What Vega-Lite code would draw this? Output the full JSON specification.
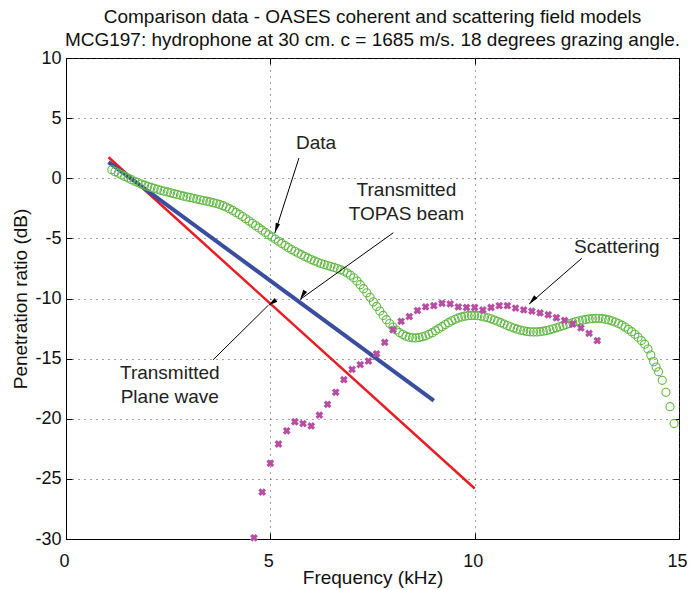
{
  "$schema": "https://vega.github.io/schema/vega-lite/v6.json",
  "width": 613,
  "height": 481,
  "autosize": {"type": "none"},
  "padding": {"left": 66, "top": 58, "right": 11, "bottom": 51},
  "background": "white",
  "title": {
    "text": ["Comparison data - OASES coherent and scattering field models", "MCG197: hydrophone at 30 cm. c = 1685 m/s. 18 degrees grazing angle."],
    "font": "Liberation Sans",
    "fontSize": 19,
    "fontWeight": "normal",
    "color": "#111111",
    "anchor": "middle",
    "lineHeight": 23,
    "offset": -1
  },
  "config": {
    "view": {"stroke": "black", "strokeWidth": 1},
    "axis": {
      "labelFont": "Liberation Sans",
      "titleFont": "Liberation Sans",
      "labelFontSize": 18,
      "titleFontSize": 19,
      "titleFontWeight": "normal",
      "labelColor": "#111111",
      "titleColor": "#111111",
      "domainColor": "black",
      "tickColor": "black",
      "tickSize": -6,
      "gridColor": "#444444",
      "gridDash": [1, 5],
      "gridWidth": 1,
      "gridOpacity": 1
    }
  },
  "datasets": {
    "obs": [
      {"f":1.12,"v":0.70},{"f":1.20,"v":0.55},{"f":1.28,"v":0.42},{"f":1.36,"v":0.28},{"f":1.44,"v":0.15},{"f":1.52,"v":0.02},{"f":1.60,"v":-0.12},{"f":1.68,"v":-0.25},{"f":1.76,"v":-0.36},{"f":1.84,"v":-0.48},{"f":1.92,"v":-0.58},{"f":2.00,"v":-0.68},{"f":2.08,"v":-0.76},{"f":2.16,"v":-0.84},{"f":2.24,"v":-0.92},{"f":2.32,"v":-1.00},{"f":2.40,"v":-1.07},{"f":2.48,"v":-1.14},{"f":2.56,"v":-1.21},{"f":2.64,"v":-1.28},{"f":2.72,"v":-1.35},{"f":2.80,"v":-1.42},{"f":2.88,"v":-1.49},{"f":2.96,"v":-1.55},{"f":3.04,"v":-1.61},{"f":3.12,"v":-1.67},{"f":3.20,"v":-1.73},{"f":3.28,"v":-1.79},{"f":3.36,"v":-1.85},{"f":3.44,"v":-1.91},{"f":3.52,"v":-1.97},{"f":3.60,"v":-2.03},{"f":3.68,"v":-2.10},{"f":3.76,"v":-2.18},{"f":3.84,"v":-2.28},{"f":3.92,"v":-2.40},{"f":4.00,"v":-2.53},{"f":4.08,"v":-2.68},{"f":4.16,"v":-2.84},{"f":4.24,"v":-3.01},{"f":4.32,"v":-3.19},{"f":4.40,"v":-3.37},{"f":4.48,"v":-3.56},{"f":4.56,"v":-3.75},{"f":4.64,"v":-3.94},{"f":4.72,"v":-4.13},{"f":4.80,"v":-4.32},{"f":4.88,"v":-4.51},{"f":4.96,"v":-4.70},{"f":5.04,"v":-4.88},{"f":5.12,"v":-5.06},{"f":5.20,"v":-5.24},{"f":5.28,"v":-5.42},{"f":5.36,"v":-5.60},{"f":5.44,"v":-5.77},{"f":5.52,"v":-5.93},{"f":5.60,"v":-6.08},{"f":5.68,"v":-6.22},{"f":5.76,"v":-6.36},{"f":5.84,"v":-6.50},{"f":5.92,"v":-6.63},{"f":6.00,"v":-6.76},{"f":6.08,"v":-6.88},{"f":6.16,"v":-6.99},{"f":6.24,"v":-7.09},{"f":6.32,"v":-7.18},{"f":6.40,"v":-7.26},{"f":6.48,"v":-7.34},{"f":6.56,"v":-7.42},{"f":6.64,"v":-7.51},{"f":6.72,"v":-7.61},{"f":6.80,"v":-7.73},{"f":6.88,"v":-7.88},{"f":6.96,"v":-8.06},{"f":7.04,"v":-8.28},{"f":7.12,"v":-8.55},{"f":7.20,"v":-8.85},{"f":7.28,"v":-9.18},{"f":7.36,"v":-9.53},{"f":7.44,"v":-9.90},{"f":7.52,"v":-10.28},{"f":7.60,"v":-10.66},{"f":7.68,"v":-11.04},{"f":7.76,"v":-11.41},{"f":7.84,"v":-11.76},{"f":7.92,"v":-12.08},{"f":8.00,"v":-12.37},{"f":8.08,"v":-12.62},{"f":8.16,"v":-12.83},{"f":8.24,"v":-13.00},{"f":8.32,"v":-13.13},{"f":8.40,"v":-13.22},{"f":8.48,"v":-13.27},{"f":8.56,"v":-13.28},{"f":8.64,"v":-13.25},{"f":8.72,"v":-13.19},{"f":8.80,"v":-13.10},{"f":8.88,"v":-12.98},{"f":8.96,"v":-12.84},{"f":9.04,"v":-12.68},{"f":9.12,"v":-12.51},{"f":9.20,"v":-12.34},{"f":9.28,"v":-12.17},{"f":9.36,"v":-12.01},{"f":9.44,"v":-11.86},{"f":9.52,"v":-11.73},{"f":9.60,"v":-11.62},{"f":9.68,"v":-11.53},{"f":9.76,"v":-11.47},{"f":9.84,"v":-11.43},{"f":9.92,"v":-11.41},{"f":10.00,"v":-11.41},{"f":10.08,"v":-11.43},{"f":10.16,"v":-11.47},{"f":10.24,"v":-11.53},{"f":10.32,"v":-11.60},{"f":10.40,"v":-11.69},{"f":10.48,"v":-11.79},{"f":10.56,"v":-11.90},{"f":10.64,"v":-12.01},{"f":10.72,"v":-12.13},{"f":10.80,"v":-12.25},{"f":10.88,"v":-12.36},{"f":10.96,"v":-12.46},{"f":11.04,"v":-12.55},{"f":11.12,"v":-12.63},{"f":11.20,"v":-12.69},{"f":11.28,"v":-12.74},{"f":11.36,"v":-12.77},{"f":11.44,"v":-12.78},{"f":11.52,"v":-12.78},{"f":11.60,"v":-12.76},{"f":11.68,"v":-12.72},{"f":11.76,"v":-12.67},{"f":11.84,"v":-12.60},{"f":11.92,"v":-12.52},{"f":12.00,"v":-12.44},{"f":12.08,"v":-12.35},{"f":12.16,"v":-12.26},{"f":12.24,"v":-12.17},{"f":12.32,"v":-12.08},{"f":12.40,"v":-12.00},{"f":12.48,"v":-11.92},{"f":12.56,"v":-11.85},{"f":12.64,"v":-11.79},{"f":12.72,"v":-11.74},{"f":12.80,"v":-11.70},{"f":12.88,"v":-11.67},{"f":12.96,"v":-11.65},{"f":13.04,"v":-11.65},{"f":13.12,"v":-11.68},{"f":13.20,"v":-11.72},{"f":13.28,"v":-11.78},{"f":13.36,"v":-11.86},{"f":13.44,"v":-11.96},{"f":13.52,"v":-12.08},{"f":13.60,"v":-12.22},{"f":13.68,"v":-12.38},{"f":13.76,"v":-12.56},{"f":13.84,"v":-12.76},{"f":13.92,"v":-12.98},{"f":14.00,"v":-13.22},{"f":14.08,"v":-13.50},{"f":14.16,"v":-13.80},{"f":14.24,"v":-14.20},{"f":14.31,"v":-14.70},{"f":14.38,"v":-15.25},{"f":14.44,"v":-15.70},{"f":14.50,"v":-16.10},{"f":14.59,"v":-16.80},{"f":14.68,"v":-17.80},{"f":14.78,"v":-19.00},{"f":14.88,"v":-20.40}
    ],
    "scat": [
      {"f":4.6,"v":-29.9},{"f":4.8,"v":-26.1},{"f":5.0,"v":-23.7},{"f":5.2,"v":-22.1},{"f":5.4,"v":-21.0},{"f":5.6,"v":-20.25},{"f":5.8,"v":-20.4},{"f":6.0,"v":-20.6},{"f":6.2,"v":-19.7},{"f":6.4,"v":-18.8},{"f":6.6,"v":-17.8},{"f":6.8,"v":-16.75},{"f":7.0,"v":-15.9},{"f":7.2,"v":-15.5},{"f":7.4,"v":-15.2},{"f":7.6,"v":-14.6},{"f":7.8,"v":-13.65},{"f":8.0,"v":-12.6},{"f":8.2,"v":-11.9},{"f":8.4,"v":-11.5},{"f":8.6,"v":-11.0},{"f":8.8,"v":-10.7},{"f":9.0,"v":-10.6},{"f":9.2,"v":-10.4},{"f":9.4,"v":-10.45},{"f":9.6,"v":-10.7},{"f":9.8,"v":-10.75},{"f":10.0,"v":-10.75},{"f":10.2,"v":-10.95},{"f":10.4,"v":-10.75},{"f":10.6,"v":-10.6},{"f":10.8,"v":-10.6},{"f":11.0,"v":-10.8},{"f":11.2,"v":-10.95},{"f":11.4,"v":-11.05},{"f":11.6,"v":-11.2},{"f":11.8,"v":-11.35},{"f":12.0,"v":-11.6},{"f":12.2,"v":-11.82},{"f":12.4,"v":-12.12},{"f":12.6,"v":-12.45},{"f":12.8,"v":-12.9},{"f":13.0,"v":-13.5}
    ],
    "models": [
      {"series":"Transmitted plane wave","f":1.04,"v":1.75},{"series":"Transmitted plane wave","f":10.0,"v":-25.8},
      {"series":"Transmitted TOPAS beam","f":1.04,"v":1.35},{"series":"Transmitted TOPAS beam","f":9.0,"v":-18.5}
    ],
    "arrows": [
      {"name":"Data","f":5.70,"v":1.68,"f2":5.11,"v2":-4.56},
      {"name":"TOPAS","f":8.01,"v":-4.53,"f2":5.73,"v2":-10.08},
      {"name":"Scattering","f":12.62,"v":-6.66,"f2":11.33,"v2":-10.47},
      {"name":"Plane","f":3.6,"v":-15.1,"f2":4.94,"v2":-10.6}
    ],
    "labels": [
      {"text":"Data","f":6.12,"v":2.93},
      {"text":"Transmitted","f":8.33,"v":-0.98},
      {"text":"TOPAS beam","f":8.33,"v":-2.98},
      {"text":"Scattering","f":13.48,"v":-5.72},
      {"text":"Transmitted","f":2.54,"v":-16.2},
      {"text":"Plane wave","f":2.54,"v":-18.2}
    ]
  },
  "layer": [
    {
      "encoding": {
        "x": {"field": "f", "type": "quantitative", "scale": {"domain": [0, 15], "nice": false, "zero": false},
              "axis": {"title": "Frequency (kHz)", "values": [0, 5, 10, 15], "grid": true, "labelFlush": false, "labelOffset": -2, "labelPadding": 19, "titlePadding": -2, "labelExpr": "'' + datum.value"}},
        "y": {"field": "v", "type": "quantitative", "scale": {"domain": [-30, 10], "nice": false, "zero": false},
              "axis": {"title": "Penetration ratio (dB)", "values": [-30, -25, -20, -15, -10, -5, 0, 5, 10], "grid": true, "labelFlush": false, "labelPadding": 11, "titlePadding": 4, "labelExpr": "'' + datum.value"}}
      },
      "layer": [
        {
          "data": {"name": "models"},
          "mark": {"type": "line", "strokeCap": "butt"},
          "encoding": {
            "color": {"field": "series", "type": "nominal", "scale": {"domain": ["Transmitted plane wave", "Transmitted TOPAS beam"], "range": ["#ec1c24", "#3a4d9f"]}, "legend": null},
            "strokeWidth": {"field": "series", "type": "nominal", "scale": {"domain": ["Transmitted plane wave", "Transmitted TOPAS beam"], "range": [2.5, 4]}, "legend": null}
          }
        },
        {
          "data": {"name": "obs"},
          "mark": {"type": "point", "shape": "circle", "filled": false, "stroke": "#63b946", "strokeWidth": 1.1, "size": 66, "opacity": 1}
        },
        {
          "data": {"name": "scat"},
          "mark": {"type": "point", "shape": "cross", "filled": true, "fill": "#b84ea4", "angle": 45, "size": 62, "opacity": 1}
        },
        {
          "data": {"name": "arrows"},
          "mark": {"type": "rule", "color": "black", "strokeWidth": 1},
          "encoding": {"x2": {"field": "f2"}, "y2": {"field": "v2"}}
        },
        {
          "data": {"name": "arrows"},
          "mark": {"type": "point", "shape": "M0,0L0.45,2L-0.45,2Z", "filled": true, "fill": "black", "size": 100, "opacity": 1},
          "encoding": {
            "x": {"field": "f2", "type": "quantitative"},
            "y": {"field": "v2", "type": "quantitative"},
            "angle": {"field": "name", "type": "nominal", "scale": {"domain": ["Data", "TOPAS", "Scattering", "Plane"], "range": [197.7, 234.6, 229.1, 45.5]}, "legend": null}
          }
        },
        {
          "data": {"name": "labels"},
          "mark": {"type": "text", "font": "Liberation Sans", "fontSize": 19, "color": "#222222", "align": "center", "baseline": "middle"},
          "encoding": {"text": {"field": "text"}}
        }
      ]
    },
    {
      "data": {"name": "models"},
      "mark": {"type": "line", "opacity": 0},
      "encoding": {
        "x": {"field": "f", "type": "quantitative", "scale": {"domain": [0, 15], "nice": false, "zero": false},
              "axis": {"orient": "top", "values": [0, 5, 10, 15], "labels": false, "title": null, "grid": false, "domain": false}},
        "y": {"field": "v", "type": "quantitative", "scale": {"domain": [-30, 10], "nice": false, "zero": false},
              "axis": {"orient": "right", "values": [-30, -25, -20, -15, -10, -5, 0, 5, 10], "labels": false, "title": null, "grid": false, "domain": false}}
      }
    }
  ],
  "resolve": {"scale": {"x": "independent", "y": "independent"}}
}
